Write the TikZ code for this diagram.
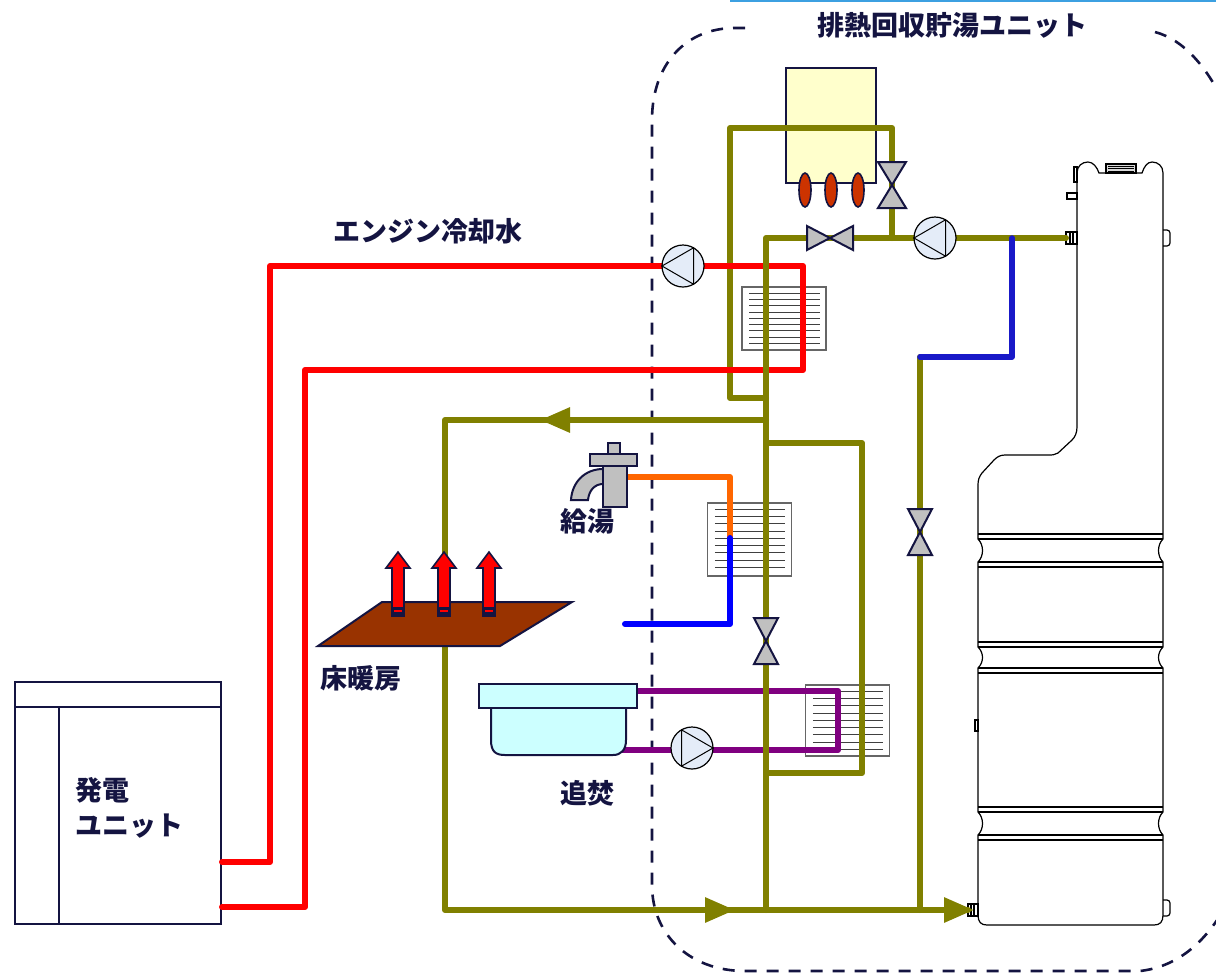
\documentclass[tikz,border=0pt]{standalone}
\usepackage{fontspec}
\newfontfamily\jp{Noto Sans CJK JP}
\usetikzlibrary{arrows.meta,calc}

\definecolor{pipeolive}{RGB}{128,128,0}
\definecolor{navyline}{RGB}{20,20,65}
\definecolor{coldblue}{RGB}{0,0,255}
\definecolor{tankblue}{RGB}{25,25,200}
\definecolor{hotorange}{RGB}{255,102,0}
\definecolor{bathpurple}{RGB}{128,0,128}
\definecolor{pumpfill}{RGB}{228,236,248}
\definecolor{valvegray}{RGB}{192,192,192}
\definecolor{boilerfill}{RGB}{255,255,204}
\definecolor{burner}{RGB}{204,51,0}
\definecolor{floorbrown}{RGB}{153,51,0}
\definecolor{tubcyan}{RGB}{204,255,255}
\definecolor{topline}{RGB}{60,160,225}

\tikzset{
  pipe/.style={line width=3pt, line join=round, line cap=round},
  olivepipe/.style={pipe, draw=pipeolive},
  redpipe/.style={pipe, draw=red},
  flow/.style={olivepipe, line cap=butt, -{Triangle[length=15pt,width=12pt]}},
  pump/.style={circle, draw=black, fill=pumpfill, line width=0.6pt, minimum size=21pt, inner sep=0pt, outer sep=0pt},
  hvalve/.style={inner sep=0pt, outer sep=0pt, minimum width=23pt, minimum height=12pt},
  vvalve/.style={inner sep=0pt, outer sep=0pt, minimum width=14pt, minimum height=23pt},
  valveline/.style={draw=navyline, fill=valvegray, line width=1pt, line join=miter},
  hx/.style={draw=black!60, fill=white, line width=0.6pt, minimum width=42pt, inner sep=0pt},
  lbl/.style={font=\jp\bfseries\fontsize{13.5}{17.5}\selectfont, text=navyline, inner sep=0pt},
  border/.style={draw=navyline, line width=1.3pt, dash pattern=on 6pt off 5pt},
  outline/.style={draw=navyline, line width=1pt},
  tankline/.style={draw=black, line width=0.6pt},
}

% насос: треугольник внутри круга
\newcommand{\pumpleft}[1]{\draw[line width=0.5pt] (#1.west) -- (#1.60) -- (#1.-60) -- cycle;}
\newcommand{\pumpright}[1]{\draw[line width=0.5pt] (#1.east) -- (#1.120) -- (#1.240) -- cycle;}
% клапаны
\newcommand{\hvalvedraw}[1]{\draw[valveline] (#1.north west) -- (#1.south east) -- (#1.north east) -- (#1.south west) -- cycle;}
\newcommand{\vvalvedraw}[1]{\draw[valveline] (#1.north west) -- (#1.north east) -- (#1.south west) -- (#1.south east) -- cycle;}
% пластины теплообменника
\newcommand{\hxlines}[2]{\foreach \k in {0,...,8} \draw[black!75, line width=0.5pt] ($(#1.north west)+(8,{7+#2*\k})$) -- ($(#1.north east)+(-7,{7+#2*\k})$);}

\begin{document}
\begin{tikzpicture}[x=0.5pt, y=-0.5pt]
	\useasboundingbox (0,0) rectangle (1216,976);
	\clip (0,0) rectangle (1216,976);

	% Граница блока
	\draw[topline, line width=1.2pt] (730,1) -- (1216,1);
	\draw[border] (745,28) -- (735,28) .. controls (685,28) and (652,65) .. (652,120) -- (652,885)
		.. controls (652,935) and (690,971) .. (745,971) -- (1140,971) .. controls (1175,967) and (1205,945) .. (1228,902);
	\draw[border] (1155,32) .. controls (1185,40) and (1210,70) .. (1228,112);

	% Теплообменники
	\node[hx, minimum height=31.5pt] (hxcool) at (784,318.5) {};
	\hxlines{hxcool}{6.25}
	\node[hx, minimum height=36.5pt] (hxhot) at (749.5,539.5) {};
	\hxlines{hxhot}{7.25}
	\node[hx, minimum height=35.5pt] (hxbath) at (847.5,720.5) {};
	\hxlines{hxbath}{7.25}

	% Котёл
	\node[outline, fill=boilerfill, minimum width=45pt, minimum height=57.5pt, inner sep=0pt] (boiler) at (831,125.5) {};

	% Бак
	\filldraw[tankline, fill=white] (1077,173) -- (1077,427) .. controls (1077,433) and (1075,437) .. (1072,440)
		-- (1058,453) .. controls (1055,455) and (1052,455) .. (1048,455) -- (1005,455)
		.. controls (1000,455) and (997,457) .. (994,460) -- (982,473) .. controls (979,477) and (978,480) .. (978,485)
		-- (978,539) .. controls (984,545) and (984,556) .. (978,562)
		-- (978,647) .. controls (984,653) and (984,662) .. (978,668)
		-- (978,812) .. controls (984,818) and (984,829) .. (978,835)
		-- (978,915) .. controls (978,922) and (981,925) .. (987,925) -- (1154,925)
		.. controls (1160,925) and (1163,922) .. (1163,915)
		-- (1163,835) .. controls (1157,829) and (1157,818) .. (1163,812)
		-- (1163,668) .. controls (1157,662) and (1157,653) .. (1163,647)
		-- (1163,562) .. controls (1157,556) and (1157,545) .. (1163,539)
		-- (1163,173) .. controls (1163,166) and (1158,162) .. (1152,162) .. controls (1147,162) and (1144,167) .. (1142,173)
		-- (1099,173) .. controls (1097,167) and (1093,162) .. (1088,162) .. controls (1082,162) and (1077,166) .. (1077,173) -- cycle;
	\foreach \y in {534,539,562,567,642,647,668,673,807,812,835,840}
		\draw[tankline] (978,\y) -- (1163,\y);
	\draw[tankline, fill=black!15] (1106,164) rectangle (1136,173);
	\foreach \y in {166,168.5,171} \draw[tankline, line width=0.4pt] (1108,\y) -- (1134,\y);
	\draw[tankline] (1074,167) rectangle (1077,182);
	\draw[tankline] (1067,193) rectangle (1077,199);
	\draw[tankline] (1066,232) rectangle (1077,244);
	\draw[tankline] (1070,232) -- (1070,244) (1073,232) -- (1073,244);
	\draw[tankline, rounded corners=1.5pt] (1163,230) -- (1170,230) -- (1170,246) -- (1163,246);
	\draw[tankline] (975,720) rectangle (978,731);
	\draw[tankline] (968,904) rectangle (978,916);
	\draw[tankline] (971,904) -- (971,916) (974,904) -- (974,916);
	\draw[tankline, rounded corners=1.5pt] (1163,900) -- (1170,900) -- (1170,916) -- (1163,916);

	% Ванна, горячая и холодная вода
	\draw[pipe, draw=bathpurple] (637,691) -- (838,691) -- (838,750) -- (620,750);
	\draw[pipe, draw=hotorange] (627,477) -- (730,477) -- (730,540);
	\draw[pipe, draw=coldblue] (730,538) -- (730,624) -- (625,624);

	% Контур котла
	\draw[olivepipe] (766,398) -- (730,398) -- (730,128) -- (892,128) -- (892,238);

	% Охлаждающая вода двигателя
	\node[outline, minimum width=103pt, minimum height=121pt, inner sep=0pt] (gen) at (118,803) {};
	\draw[redpipe] ([yshift=-29.5pt]gen.east) -| (270,266) -- (803,266) |- (305,370) |- ([yshift=-52pt]gen.east);

	% Основные трубы
	\draw[olivepipe] (766,910) -- (766,238) -- (1066,238);
	\draw[olivepipe] (766,443) -- (862,443) -- (862,773) -- (766,773);
	\draw[olivepipe] (766,420) -- (445,420) -- (445,910) -- (968,910);
	\draw[olivepipe] (920,357) -- (920,910);
	\draw[pipe, draw=tankblue, line width=2.8pt] (1012,238) -- (1012,357) -- (920,357);
	\draw[flow] (620,420) -- (540,420);
	\draw[flow] (660,910) -- (735,910);
	\draw[flow] (900,910) -- (974,910);

	% Тёплый пол
	\filldraw[outline, fill=floorbrown] (318,646) -- (382,602) -- (572,602) -- (500,646) -- cycle;
	\foreach \x in {398,444,489} {
		\filldraw[fill=red, draw=navyline, line width=0.8pt] (\x-6,616) -- (\x-6,568) -- (\x-12,568) -- (\x,552)
			-- (\x+12,568) -- (\x+6,568) -- (\x+6,616) -- cycle;
		\fill[navyline] (\x-6,607) rectangle (\x+6,617);
		\draw[red, line width=0.8pt] (\x-4,611) -- (\x+4,611);
	}

	% Ванна
	\filldraw[outline, fill=tubcyan] (491,706) -- (491,740) .. controls (491,752) and (496,755) .. (505,755)
		-- (613,755) .. controls (621,755) and (626,750) .. (626,740) -- (626,706);
	\filldraw[outline, fill=tubcyan] (479,684) rectangle (637,708);

	% Кран
	\filldraw[outline, fill=valvegray] (603,469) .. controls (585,469) and (572,482) .. (571,500) -- (588,500)
		.. controls (589,490) and (595,484) .. (603,484) -- cycle;
	\filldraw[outline, fill=valvegray] (603,466) rectangle (627,507);
	\filldraw[outline, fill=valvegray] (590,454) rectangle (637,466);
	\filldraw[outline, fill=valvegray] (608,443) rectangle (620,454);

	% Горелки
	\foreach \x in {805,831,858}
		\filldraw[fill=burner, draw=navyline, line width=0.8pt] (\x,190) ellipse [x radius=3pt, y radius=8.5pt];

	% Насосы
	\node[pump] (pcool) at (683,266) {};
	\pumpleft{pcool}
	\node[pump] (ptank) at (935,238) {};
	\pumpleft{ptank}
	\node[pump] (pbath) at (692,748) {};
	\pumpright{pbath}

	% Клапаны
	\node[vvalve] (vboil) at (892,185) {};
	\vvalvedraw{vboil}
	\node[hvalve] (vtop) at (830,238) {};
	\hvalvedraw{vtop}
	\node[vvalve, minimum width=12pt] (vtank) at (920,532) {};
	\vvalvedraw{vtank}
	\node[vvalve, minimum width=12pt] (vmain) at (766,641) {};
	\vvalvedraw{vmain}

	% Генератор
	\draw[outline] ([yshift=-13pt]gen.north west) -- ([yshift=-13pt]gen.north east);
	\draw[outline] ([xshift=22.5pt,yshift=-13pt]gen.north west) -- ([xshift=22.5pt]gen.south west);

	% Подписи
	\node[lbl] (unitname) at (952,25) {排熱回収貯湯ユニット};
	\node[lbl] (coolant) at (428,231) {エンジン冷却水};
	\node[lbl, align=left, anchor=west] (gentext) at (75,808) {発電\\ユニット};
	\node[lbl] (kyuto) at (587,521) {給湯};
	\node[lbl] (yukadanbo) at (361,678) {床暖房};
	\node[lbl] (oidaki) at (587,793) {追焚};
\end{tikzpicture}
\end{document}
